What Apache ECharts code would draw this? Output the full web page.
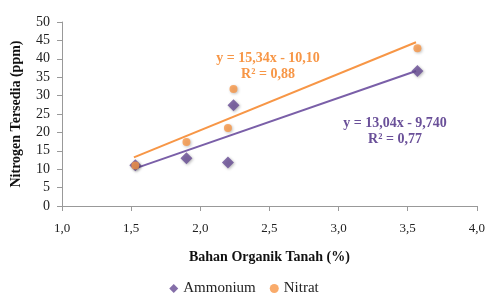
<!DOCTYPE html>
<html>
<head>
<meta charset="utf-8">
<script src="https://cdn.jsdelivr.net/npm/echarts@6/dist/echarts.min.js"></script>
<style>
  html, body { margin: 0; padding: 0; background: #fff; }
</style>
</head>
<body>
<!-- chart container -->
<div id="main" style="width: 488px;height:298px;"></div>
<script>
// data (x = bahan organik %, y = ppm)
var ammonium = [[1.53, 11.1], [1.90, 13.0], [2.20, 11.8], [2.24, 27.4], [3.57, 36.7]];
var nitrat = [[1.53, 11.0], [1.90, 17.4], [2.20, 21.2], [2.24, 31.8], [3.57, 42.9]];
// trend line end points
var ammoniumTrend = [[1.52, 10.1], [3.56, 36.7]];
var nitratTrend = [[1.52, 13.2], [3.56, 44.5]];
var ammoniumLabel = ['y = 13,04x - 9,740', 'R² = 0,77'];
var nitratLabel = ['y = 15,34x - 10,10', 'R² = 0,88'];

var serif = 'Liberation Serif';
var purple = '#664b94';
var orange = '#f79646';

var myChart = echarts.init(document.getElementById('main'));
var option = {
  animation: false,
  textStyle: { fontFamily: serif },
  grid: { left: 62, right: 8, top: 22, bottom: 92 },
  legend: {
    top: 281,
    left: 'center',
    padding: 0,
    itemGap: 14,
    itemWidth: 9,
    itemHeight: 9,
    textStyle: { fontFamily: 'serif', fontSize: 15, color: '#222' },
    data: [
      { name: 'Ammonium', icon: 'diamond' },
      { name: 'Nitrat', icon: 'circle' }
    ]
  },
  xAxis: {
    type: 'value',
    min: 1, max: 4, interval: 0.5,
    name: 'Bahan Organik Tanah (%)',
    nameLocation: 'middle',
    nameGap: 44,
    nameTextStyle: { fontFamily: serif, fontWeight: 'bold', fontSize: 14, color: '#111' },
    splitLine: { show: false },
    axisLine: { lineStyle: { color: '#999' } },
    axisTick: { lineStyle: { color: '#999' }, length: 5 },
    axisLabel: {
      margin: 16,
      fontFamily: serif, fontSize: 13, color: '#222',
      formatter: function (v) { return v.toFixed(1).replace('.', ','); }
    }
  },
  yAxis: {
    type: 'value',
    min: 0, max: 50, interval: 5,
    name: 'Nitrogen Tersedia (ppm)',
    nameLocation: 'middle',
    nameGap: 39,
    nameTextStyle: { fontFamily: serif, fontWeight: 'bold', fontSize: 14, color: '#111' },
    splitLine: { show: false },
    axisLine: { show: true, lineStyle: { color: '#999' } },
    axisTick: { show: true, lineStyle: { color: '#999' }, length: 5 },
    axisLabel: { margin: 12, fontFamily: serif, fontSize: 14, color: '#222' }
  },
  series: [
    {
      name: 'Ammonium trend',
      type: 'line',
      data: ammoniumTrend,
      symbol: 'none',
      lineStyle: { color: '#7a5fa8', width: 2 },
      z: 1,
      silent: true
    },
    {
      name: 'Nitrat trend',
      type: 'line',
      data: nitratTrend,
      symbol: 'none',
      lineStyle: { color: orange, width: 2 },
      z: 1,
      silent: true
    },
    {
      name: 'Ammonium',
      type: 'scatter',
      data: ammonium,
      symbol: 'diamond',
      symbolSize: 12,
      itemStyle: { color: purple, shadowColor: 'rgba(0,0,0,0.35)', shadowBlur: 3, shadowOffsetX: 1, shadowOffsetY: 1 },
      z: 3
    },
    {
      name: 'Nitrat',
      type: 'scatter',
      data: nitrat,
      symbol: 'circle',
      symbolSize: 8,
      itemStyle: { color: orange, shadowColor: 'rgba(0,0,0,0.3)', shadowBlur: 3, shadowOffsetX: 1, shadowOffsetY: 1 },
      z: 3
    }
  ],
  graphic: [
    {
      type: 'text', x: 268, y: 50,
      style: {
        text: nitratLabel.join('\n'), align: 'center',
        fill: orange, font: 'bold 14px "Liberation Serif"', lineHeight: 16
      }
    },
    {
      type: 'text', x: 395, y: 115,
      style: {
        text: ammoniumLabel.join('\n'), align: 'center',
        fill: '#6a5099', font: 'bold 14px "Liberation Serif"', lineHeight: 16
      }
    }
  ]
};
option && myChart.setOption(option);
</script>
</body>
</html>
